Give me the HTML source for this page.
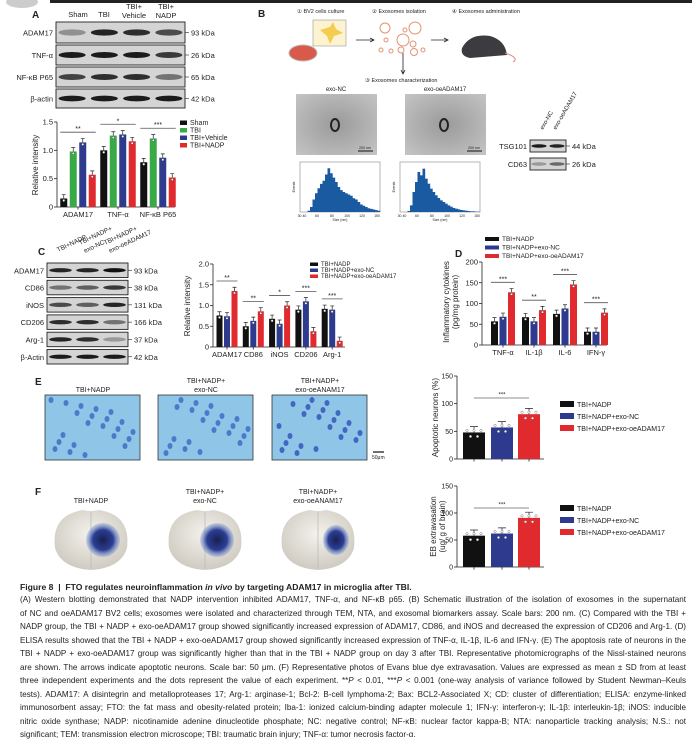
<!DOCTYPE html>
<html><head><meta charset="utf-8">
<style>
body{margin:0;background:#fff;width:692px;height:744px;overflow:hidden;font-family:"Liberation Sans",sans-serif;position:relative}
svg{position:absolute;left:0;top:0}
text{font-family:"Liberation Sans",sans-serif}
#cap{position:absolute;left:20px;top:581px;width:666px;font-size:8.1px;color:#222}
#cap div{height:13.5px;line-height:13.5px}
#cap .l{text-align:justify;text-align-last:justify;white-space:nowrap;overflow:hidden}
#cap .h{font-weight:bold;font-size:8.6px;text-align:left;text-align-last:left;white-space:nowrap;height:12px;line-height:12px}
</style></head><body>
<svg id="fig" width="692" height="744">
<defs>
<radialGradient id="brain" cx="50%" cy="40%" r="60%"><stop offset="0" stop-color="#f4f2ec"/><stop offset="1" stop-color="#cfcbc2"/></radialGradient>
<radialGradient id="dye" cx="50%" cy="50%" r="50%"><stop offset="0" stop-color="#1a2050"/><stop offset="0.6" stop-color="#2b3e95"/><stop offset="1" stop-color="#6f8fd0" stop-opacity="0.3"/></radialGradient>
<radialGradient id="tem" cx="50%" cy="50%" r="70%"><stop offset="0" stop-color="#9a9a9a"/><stop offset="1" stop-color="#c4c4c4"/></radialGradient>
</defs>
<rect x="50" y="0" width="642" height="3" fill="#222"/>
<ellipse cx="22" cy="2" rx="16" ry="6" fill="#ccc"/>
<g id="gA"></g>
<g id="gB"></g>
<g id="gC"></g>
<g id="gD"></g>
<g id="gE"></g>
<g id="gF"></g>
</svg>
<div id="cap">
<div class="h">Figure 8 &nbsp;|&nbsp; FTO regulates neuroinflammation <i>in vivo</i> by targeting ADAM17 in microglia after TBI.</div>
<div class="l">(A) Western blotting demonstrated that NADP intervention inhibited ADAM17, TNF-α, and NF-κB p65. (B) Schematic illustration of the isolation of exosomes in the supernatant</div>
<div class="l">of NC and oeADAM17 BV2 cells; exosomes were isolated and characterized through TEM, NTA, and exosomal biomarkers assay. Scale bars: 200 nm. (C) Compared with the TBI +</div>
<div class="l">NADP group, the TBI + NADP + exo-oeADAM17 group showed significantly increased expression of ADAM17, CD86, and iNOS and decreased the expression of CD206 and Arg-1. (D)</div>
<div class="l">ELISA results showed that the TBI + NADP + exo-oeADAM17 group showed significantly increased expression of TNF-α, IL-1β, IL-6 and IFN-γ. (E) The apoptosis rate of neurons in the</div>
<div class="l">TBI + NADP + exo-oeADAM17 group was significantly higher than that in the TBI + NADP group on day 3 after TBI. Representative photomicrographs of the Nissl-stained neurons</div>
<div class="l">are shown. The arrows indicate apoptotic neurons. Scale bar: 50 μm. (F) Representative photos of Evans blue dye extravasation. Values are expressed as mean ± SD from at least</div>
<div class="l">three independent experiments and the dots represent the value of each experiment. **<i>P</i> &lt; 0.01, ***<i>P</i> &lt; 0.001 (one-way analysis of variance followed by Student Newman–Keuls</div>
<div class="l">tests). ADAM17: A disintegrin and metalloproteases 17; Arg-1: arginase-1; Bcl-2: B-cell lymphoma-2; Bax: BCL2-Associated X; CD: cluster of differentiation; ELISA: enzyme-linked</div>
<div class="l">immunosorbent assay; FTO: the fat mass and obesity-related protein; Iba-1: ionized calcium-binding adapter molecule 1; IFN-γ: interferon-γ; IL-1β: interleukin-1β; iNOS: inducible</div>
<div class="l">nitric oxide synthase; NADP: nicotinamide adenine dinucleotide phosphate; NC: negative control; NF-κB: nuclear factor kappa-B; NTA: nanoparticle tracking analysis; N.S.: not</div>
<div style="white-space:nowrap">significant; TEM: transmission electron microscope; TBI: traumatic brain injury; TNF-α: tumor necrosis factor-α.</div>
</div>
<script>
// ---- data ----
const aCategories = ["ADAM17","TNF-α","NF-κB P65"];
const aSeries = ["Sham","TBI","TBI+Vehicle","TBI+NADP"];
const aSham = [0.15,1.0,0.79];
const aTBI = [0.98,1.26,1.21];
const aVehicle = [1.14,1.28,0.87];
const aNADP = [0.57,1.16,0.52];
const aTicks = [0,0.5,1.0,1.5];
const aSig = ["**","*","***"];

const cCategories = ["ADAM17","CD86","iNOS","CD206","Arg-1"];
const cSeries = ["TBI+NADP","TBI+NADP+exo-NC","TBI+NADP+exo-oeADAM17"];
const cNADP = [0.76,0.50,0.68,0.90,0.92];
const cExoNC = [0.74,0.63,0.56,1.10,0.90];
const cExoOe = [1.35,0.86,1.00,0.38,0.15];
const cTicks = [0,0.5,1.0,1.5,2.0];
const cSig = ["**","**","*","***","***"];

const dCategories = ["TNF-α","IL-1β","IL-6","IFN-γ"];
const dNADP = [57,67,75,32];
const dExoNC = [68,57,88,32];
const dExoOe = [127,84,146,78];
const dTicks = [0,50,100,150,200];
const dSig = ["***","**","***","***"];

const eValues = [48,57,81];
const fValues = [58,62,91];
const efTicks = [0,50,100,150];

const COLS4 = ["#111","#3aaa48","#2d3a8e","#e02a2e"];
const COLS3 = ["#111","#2d3a8e","#e02a2e"];
const NS = "http://www.w3.org/2000/svg";

function el(parent, tag, attrs, txt){
  const e = document.createElementNS(NS, tag);
  for (const k in attrs) e.setAttribute(k, attrs[k]);
  if (txt !== undefined) e.textContent = txt;
  parent.appendChild(e);
  return e;
}
function T(p,x,y,s,size,anchor,extra){
  const t = el(p,"text",Object.assign({x:x,y:y,"font-size":size||8,"text-anchor":anchor||"start",fill:"#222"},extra||{}),s);
  
  
  return t;
}

function groupedBars(g, opt){
  const yScale = v => opt.y0 - (v/opt.yMax)*(opt.y0-opt.yTop);
  const ax = el(g,"line",{x1:opt.x0,y1:opt.yTop,x2:opt.x0,y2:opt.y0,stroke:"#222","stroke-width":0.8});
  
  
  const bx = el(g,"line",{x1:opt.x0,y1:opt.y0,x2:opt.xAxisEnd,y2:opt.y0,stroke:"#222","stroke-width":0.8});
  
  
  opt.ticks.forEach(t=>{
    const y = yScale(t);
    const tk = el(g,"line",{x1:opt.x0-3,y1:y,x2:opt.x0,y2:y,stroke:"#222","stroke-width":0.8});
    
    
    const lbl = T(g,opt.x0-4,y+2.5,opt.tickFmt?opt.tickFmt(t):String(t),opt.fs||7,"end");
    
  });
  const n = opt.series.length;
  opt.cats.forEach((c,i)=>{
    const cx = opt.firstCenter + i*opt.groupStep;
    const cl = T(g,cx,opt.y0+10,c,opt.fs||7.5,"middle");
    
    const xt = el(g,"line",{x1:cx,y1:opt.y0,x2:cx,y2:opt.y0+2.5,stroke:"#222","stroke-width":0.8});
    
    
    let top = 0;
    opt.series.forEach((s,j)=>{
      const v = s[i];
      const bxp = cx + (j-(n-1)/2)*opt.barStep - opt.barW/2;
      const y = yScale(v);
      const r = el(g,"rect",{x:bxp,y:y,width:opt.barW,height:opt.y0-y,fill:opt.colors[j]});
      
      
      const ey = y-(opt.y0-opt.yTop)*0.045;
      const eb = el(g,"path",{d:`M${bxp+opt.barW/2} ${y} V${ey} M${bxp+opt.barW/2-2} ${ey} H${bxp+opt.barW/2+2}`,stroke:"#222","stroke-width":0.7,fill:"none"});
      
      
      const dot = el(g,"circle",{cx:bxp+opt.barW/2,cy:y+2,r:1.2,fill:"#fff",stroke:"#444","stroke-width":0.5});
      
      
      top = Math.max(top, v);
    });
    if (opt.sig){
      const sy = yScale(top) - (opt.y0-opt.yTop)*0.12;
      const half = (n-1)/2*opt.barStep + opt.barW/2;
      const sl = el(g,"line",{x1:cx-half,y1:sy,x2:cx+half,y2:sy,stroke:"#555","stroke-width":0.8});
      
      
      const st = T(g,cx,sy-1,opt.sig[i],7,"middle");
      
    }
  });
}

function legend(g,x,y,items,colors,step,fs,sw,sh){
  items.forEach((s,i)=>{
    const r = el(g,"rect",{x:x,y:y+i*step-sh+1,width:sw,height:sh,fill:colors[i]});
    
    
    const t = T(g,x+sw+3,y+i*step+1,s,fs,"start");
    
  });
}

function blot(g,x,y,w,h,bands,label,kda){
  const fr = el(g,"rect",{x:x,y:y,width:w,height:h,fill:"#d4d4d4",stroke:"#222","stroke-width":0.9});
  
  
  const lw = w/bands.length;
  bands.forEach((b,i)=>{
    const bd = el(g,"ellipse",{cx:x+lw*(i+0.5),cy:y+h/2,rx:lw*0.42,ry:h*0.15,fill:"#111","fill-opacity":b});
    
    
  });
  const l = T(g,x-3,y+h/2+3,label,7.5,"end");
  
  const k = T(g,x+w+6,y+h/2+3,kda,7.5,"start");
  
  el(g,"line",{x1:x+w,y1:y+h/2,x2:x+w+4,y2:y+h/2,stroke:"#222","stroke-width":0.6});
}

// ---- Panel A ----
const gA = document.getElementById("gA");
T(gA,32,18,"A",10,"start",{"font-weight":"bold"});
[["Sham",78],["TBI",104]].forEach(l=>T(gA,l[1],17,l[0],7.5,"middle"));
T(gA,134,9,"TBI+",7.5,"middle");T(gA,134,18,"Vehicle",7.5,"middle");
T(gA,166,9,"TBI+",7.5,"middle");T(gA,166,18,"NADP",7.5,"middle");
blot(gA,56,22,129,21,[0.35,0.9,0.85,0.7],"ADAM17","93 kDa");
blot(gA,56,45,129,20,[0.95,0.95,0.95,0.8],"TNF-α","26 kDa");
blot(gA,56,67,129,20,[0.75,0.85,0.85,0.5],"NF-κB P65","65 kDa");
blot(gA,56,89,129,19,[0.95,0.95,0.95,0.95],"β-actin","42 kDa");
groupedBars(gA,{x0:57,y0:207,yTop:122,yMax:1.5,ticks:aTicks,tickFmt:t=>t===0?"0":t.toFixed(1),
  cats:aCategories,series:[aSham,aTBI,aVehicle,aNADP],colors:COLS4,firstCenter:78,groupStep:40,barW:7,barStep:9.5,
  xAxisEnd:175,sig:aSig,fs:7.5});
T(gA,38,165,"Relative intensity",8,"middle",{transform:"rotate(-90 38 165)"});
legend(gA,180,124,aSeries,COLS4,7.5,7,7,4.5);

// ---- Panel B ----
const gB = document.getElementById("gB");
T(gB,258,17,"B",10,"start",{"font-weight":"bold"});
T(gB,297,13,"① BV2 cells culture",5.5,"start");
T(gB,372,13,"② Exosomes isolation",5.5,"start");
T(gB,452,13,"④ Exosomes administration",5.5,"start");
T(gB,365,82,"③ Exosomes characterization",5.5,"start");
el(gB,"ellipse",{cx:303,cy:53,rx:14,ry:8,fill:"#d85a4a",stroke:"#bbb"});
el(gB,"rect",{x:313,y:20,width:33,height:26,fill:"#fdf3d0",stroke:"#999","stroke-width":0.6});
el(gB,"path",{d:"M320 30 L330 27 L333 22 L336 29 L343 33 L334 36 L330 44 L327 36 Z",fill:"#f4cc50"});
el(gB,"path",{d:"M356 40 H373 M370 38 L374 40 L370 42",stroke:"#222",fill:"none","stroke-width":0.8});
el(gB,"path",{d:"M431 40 H447 M444 38 L448 40 L444 42",stroke:"#222",fill:"none","stroke-width":0.8});
el(gB,"path",{d:"M403 53 V73 M401 70 L403 74 L405 70",stroke:"#222",fill:"none","stroke-width":0.8});
[[385,28,5],[415,28,6],[403,40,6],[413,44,3],[386,40,2],[401,50,3],[414,52,3.5],[381,50,2],[391,51,2],[423,50,2],[405,30,2]].forEach(c=>el(gB,"circle",{cx:c[0],cy:c[1],r:c[2],fill:"none",stroke:"#e39370","stroke-width":1}));
el(gB,"path",{d:"M462 48 Q470 33 490 36 Q505 40 507 55 L470 58 Q460 56 462 48 Z",fill:"#3b3b40"});
el(gB,"path",{d:"M505 53 Q520 58 513 62",stroke:"#d88",fill:"none"});
[[296,"exo-NC"],[405,"exo-oeADAM17"]].forEach((p,i)=>{
  T(gB,p[0]+40,91,p[1],6,"middle");
  const r = el(gB,"rect",{x:p[0],y:94,width:81,height:61,fill:"url(#tem)"});
  
  
  el(gB,"ellipse",{cx:p[0]+39,cy:125,rx:4,ry:6,fill:"none",stroke:"#222","stroke-width":2});
  el(gB,"line",{x1:p[0]+62,y1:151,x2:p[0]+77,y2:151,stroke:"#111"});
  T(gB,p[0]+69,149,"200 nm",3.5,"middle");
});
const histNC = [0,0,0,2,8,20,30,38,45,50,60,70,62,55,48,40,35,32,30,28,26,22,20,16,12,10,8,6,5,4,3,2];
const histOe = [0,0,0,3,20,60,90,120,110,130,100,85,70,60,50,42,35,30,25,20,16,12,10,8,6,5,4,3,2,2,1,1];
[[300,histNC,80],[400,histOe,150]].forEach(h=>{
  const x0=h[0],w=80,y0=212,ht=50;
  el(gB,"rect",{x:x0,y:y0-ht,width:w,height:ht,fill:"none",stroke:"#888","stroke-width":0.6});
  const bw=w/h[1].length;
  h[1].forEach((v,i)=>{const bh=v/h[2]*ht;const r=el(gB,"rect",{x:x0+i*bw,y:y0-bh,width:bw+0.2,height:bh,fill:"#1a5aa0"});
    });
  T(gB,x0-5,y0-25,"Events",3.5,"middle",{transform:`rotate(-90 ${x0-5} ${y0-25})`});
  ["30 40","60","80","100","120","150"].forEach((s,i)=>T(gB,x0+2+i*15,y0+5,s,3.5,"middle"));
  T(gB,x0+40,y0+9,"Size (nm)",3.5,"middle");
});
T(gB,543,130,"exo-NC",6,"start",{transform:"rotate(-60 543 130)"});
T(gB,556,130,"exo-oeADAM17",6,"start",{transform:"rotate(-60 556 130)"});
blot(gB,530,140,36,12,[0.95,0.9],"TSG101","44 kDa");
blot(gB,530,158,36,12,[0.3,0.55],"CD63","26 kDa");

// ---- Panel C ----
const gC = document.getElementById("gC");
T(gC,38,255,"C",10,"start",{"font-weight":"bold"});
T(gC,58,252,"TBI+NADP",6.5,"start",{transform:"rotate(-25 58 252)"});
T(gC,80,245,"TBI+NADP+",6.5,"start",{transform:"rotate(-25 80 245)"});
T(gC,85,253,"exo-NC",6.5,"start",{transform:"rotate(-25 85 253)"});
T(gC,105,245,"TBI+NADP+",6.5,"start",{transform:"rotate(-25 105 245)"});
T(gC,110,253,"exo-oeADAM17",6.5,"start",{transform:"rotate(-25 110 253)"});
const cRows=[["ADAM17","93 kDa",[0.9,0.9,1]],["CD86","38 kDa",[0.5,0.6,0.8]],["iNOS","131 kDa",[0.7,0.6,0.9]],["CD206","166 kDa",[0.85,0.85,0.5]],["Arg-1","37 kDa",[0.9,0.85,0.3]],["β-Actin","42 kDa",[0.95,0.95,0.95]]];
cRows.forEach((r,i)=>blot(gC,47,263+i*17.3,81,14.5,r[2],r[0],r[1]));
groupedBars(gC,{x0:213,y0:347,yTop:264,yMax:2.0,ticks:cTicks,tickFmt:t=>t===0?"0":t.toFixed(1),
  cats:cCategories,series:[cNADP,cExoNC,cExoOe],colors:COLS3,firstCenter:227,groupStep:26.3,barW:6,barStep:7.5,
  xAxisEnd:345,sig:cSig,fs:7.5});
T(gC,190,306,"Relative intensity",8,"middle",{transform:"rotate(-90 190 306)"});
legend(gC,310,265,cSeries,COLS3,6,6,8,3.5);

// ---- Panel D ----
const gD = document.getElementById("gD");
T(gD,455,257,"D",10,"start",{"font-weight":"bold"});
legend(gD,485,240,cSeries,COLS3,8.5,6.5,14,4);
groupedBars(gD,{x0:482,y0:345,yTop:262,yMax:200,ticks:dTicks,
  cats:dCategories,series:[dNADP,dExoNC,dExoOe],colors:COLS3,firstCenter:503,groupStep:31,barW:7,barStep:8.5,
  xAxisEnd:607,sig:dSig,fs:7.5});
T(gD,449,302,"Inflammatory cytokines",8,"middle",{transform:"rotate(-90 449 302)"});
T(gD,458,302,"(pg/mg protein)",8,"middle",{transform:"rotate(-90 458 302)"});

// ---- Panel E images ----
const gE = document.getElementById("gE");
T(gE,35,385,"E",10,"start",{"font-weight":"bold"});
const eTitles=[["TBI+NADP"],["TBI+NADP+","exo-NC"],["TBI+NADP+","exo-oeANAM17"]];
const eX=[45,158,272];
eX.forEach((x,i)=>{
  if(eTitles[i].length===1) T(gE,x+48,392,eTitles[i][0],7,"middle");
  else {T(gE,x+48,383,eTitles[i][0],7,"middle");T(gE,x+48,392,eTitles[i][1],7,"middle");}
  const r=el(gE,"rect",{x:x,y:395,width:95,height:65,fill:"#8fc5e6",stroke:"#333","stroke-width":0.8});
  
  for(let k=0;k<22;k++){const cx=x+6+((k*37+i*13)%85),cy=400+((k*23+i*7)%56);
    el(gE,"ellipse",{cx:cx,cy:cy,rx:2.5,ry:3,fill:i===2?"#2e4fb8":"#3b66c4","fill-opacity":0.8});}
});
el(gE,"line",{x1:373,y1:452,x2:384,y2:452,stroke:"#111","stroke-width":1.2});
T(gE,372,459,"50μm",5,"start");

// ---- Panels E/F bar charts ----
const gF=document.getElementById("gF");
function simple(g,vals,y0,yTop,sigY,labelLines,labelX){
  const ys=v=>y0-(v/150)*(y0-yTop);
  const x0=457, centers=[474,502,529], bw=22;
  const ya=el(g,"line",{x1:x0,y1:yTop,x2:x0,y2:y0,stroke:"#222","stroke-width":0.8});
  
  const xa=el(g,"line",{x1:x0,y1:y0,x2:544,y2:y0,stroke:"#222","stroke-width":0.8});
  
  efTicks.forEach(t=>{const y=ys(t);el(g,"line",{x1:x0-3,y1:y,x2:x0,y2:y,stroke:"#222","stroke-width":0.8});
    const l=T(g,x0-4,y+2.5,String(t),7,"end");});
  vals.forEach((v,i)=>{const y=ys(v);
    const r=el(g,"rect",{x:centers[i]-bw/2,y:y,width:bw,height:y0-y,fill:COLS3[i]});
    
    const ey=y-(y0-yTop)*0.07;
    el(g,"path",{d:`M${centers[i]} ${y} V${ey} M${centers[i]-4} ${ey} H${centers[i]+4}`,stroke:"#222","stroke-width":0.7,fill:"none"});
    for(let k=0;k<5;k++){const d=el(g,"circle",{cx:centers[i]-7+k*3.5,cy:y+((k%2)?4:-2),r:1.2,fill:"#fff",stroke:"#777","stroke-width":0.5});
      }
    el(g,"line",{x1:centers[i],y1:y0,x2:centers[i],y2:y0+2.5,stroke:"#222","stroke-width":0.8});
  });
  const sl=el(g,"line",{x1:474,y1:sigY,x2:529,y2:sigY,stroke:"#666","stroke-width":0.8});
  
  T(g,502,sigY-1.5,"***",6,"middle");
  labelLines.forEach((s,k)=>T(g,labelX[k],(y0+yTop)/2,s,8,"middle",{transform:`rotate(-90 ${labelX[k]} ${(y0+yTop)/2})`}));
}
simple(gE,eValues,459,376,398,["Apoptotic neurons (%)"],[438]);
legend(gE,560,406,["TBI+NADP","TBI+NADP+exo-NC","TBI+NADP+exo-oeADAM17"],COLS3,12,7,14,6);

T(gF,35,495,"F",10,"start",{"font-weight":"bold"});
const fT=[["TBI+NADP"],["TBI+NADP+","exo-NC"],["TBI+NADP+","exo-oeANAM17"]];
[91,205,318].forEach((cx,i)=>{
  if(fT[i].length===1) T(gF,cx,503,fT[i][0],7,"middle");
  else {T(gF,cx,494,fT[i][0],7,"middle");T(gF,cx,503,fT[i][1],7,"middle");}
  const b=el(gF,"path",{d:`M${cx-36} ${548} Q${cx-40} ${515} ${cx-8} ${510} Q${cx} ${512} ${cx+8} ${510} Q${cx+40} ${515} ${cx+36} ${548} Q${cx+30} ${568} ${cx} ${570} Q${cx-30} ${568} ${cx-36} ${548} Z`,fill:"url(#brain)"});
  
  el(gF,"line",{x1:cx,y1:512,x2:cx,y2:568,stroke:"#bbb","stroke-width":0.8});
  el(gF,"ellipse",{cx:cx+(i===2?18:12),cy:540,rx:i===2?13:17,ry:i===2?15:17,fill:"url(#dye)"});
});
simple(gF,fValues,567,486,508,["EB extravasation","(ug/ g of brain)"],[436,445]);
legend(gF,560,510,["TBI+NADP","TBI+NADP+exo-NC","TBI+NADP+exo-oeADAM17"],COLS3,12,7,14,6);
</script>
</body></html>
